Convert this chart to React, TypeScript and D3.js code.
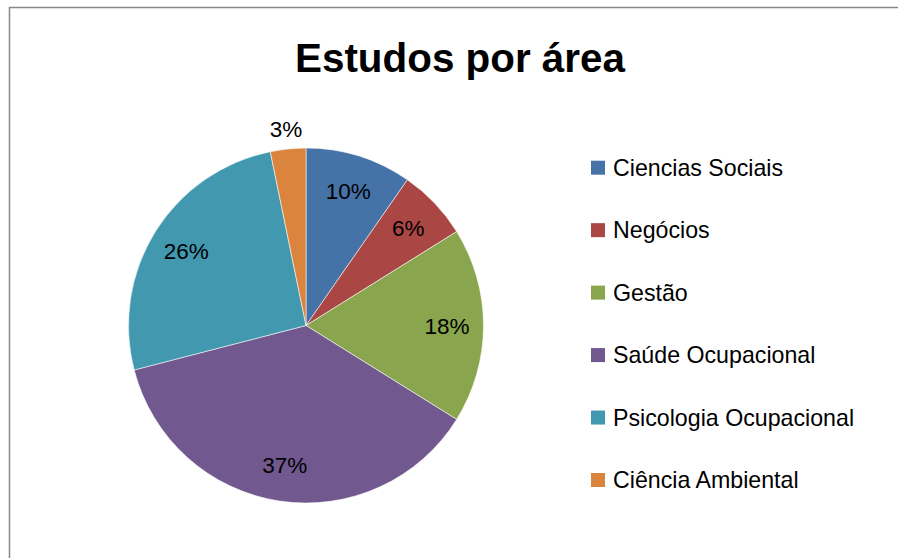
import React from "react";
import * as d3 from "d3";

const categories = [
  "Ciencias Sociais",
  "Negócios",
  "Gestão",
  "Saúde Ocupacional",
  "Psicologia Ocupacional",
  "Ciência Ambiental",
];
const counts = [6, 4, 11, 23, 16, 2];
const colors = ["#4572A7", "#AA4643", "#89A54E", "#71588F", "#4198AF", "#DB843D"];
const title = "Estudos por área";

const W = 898;
const H = 558;
const FONT = "'Liberation Sans', Arial, sans-serif";

export default function App() {
  const cx = 306;
  const cy = 325.5;
  const R = 177.5;
  const total = d3.sum(counts);
  const pie = d3.pie<number>().sort(null).value((d) => d);
  const arcs = pie(counts);
  const arc = d3.arc<d3.PieArcDatum<number>>().innerRadius(0).outerRadius(R);

  const legendY = d3
    .scalePoint<string>()
    .domain(categories)
    .range([167.7, 480]);

  return (
    <svg
      width={W}
      height={H}
      style={{ position: "absolute", left: 0, top: 0, background: "#fff" }}
    >
      <rect x={0} y={0} width={W} height={H} fill="#fff" />
      <rect
        x={9.5}
        y={7.5}
        width={2000}
        height={2000}
        fill="#fff"
        stroke="#888"
        strokeWidth={1.5}
      />
      <text
        x={460}
        y={72}
        textAnchor="middle"
        fontFamily={FONT}
        fontWeight="bold"
        fontSize={40.4}
        fill="#000"
      >
        {title}
      </text>
      <g transform={`translate(${cx},${cy})`}>
        {arcs.map((a, i) => (
          <path
            key={i}
            d={arc(a) || ""}
            fill={colors[i]}
            stroke="#fff"
            strokeOpacity={0.7}
            strokeWidth={0.8}
          />
        ))}
        {arcs.map((a, i) => {
          const pct = Math.round((a.data / total) * 100);
          const mid = (a.startAngle + a.endAngle) / 2;
          const r = pct < 5 && i === counts.length - 1 ? 198 : 141;
          const x = Math.sin(mid) * r;
          const y = -Math.cos(mid) * r;
          return (
            <text
              key={"l" + i}
              x={x}
              y={y + 8}
              textAnchor="middle"
              fontFamily={FONT}
              fontSize={22.5}
              fill="#000"
            >
              {pct}%
            </text>
          );
        })}
      </g>
      <g>
        {categories.map((c, i) => {
          const y = legendY(c) as number;
          return (
            <g key={c}>
              <rect x={591} y={y - 7} width={14} height={14} fill={colors[i]} />
              <text
                x={613}
                y={y + 8}
                fontFamily={FONT}
                fontSize={23.2}
                fill="#000"
              >
                {c}
              </text>
            </g>
          );
        })}
      </g>
    </svg>
  );
}
